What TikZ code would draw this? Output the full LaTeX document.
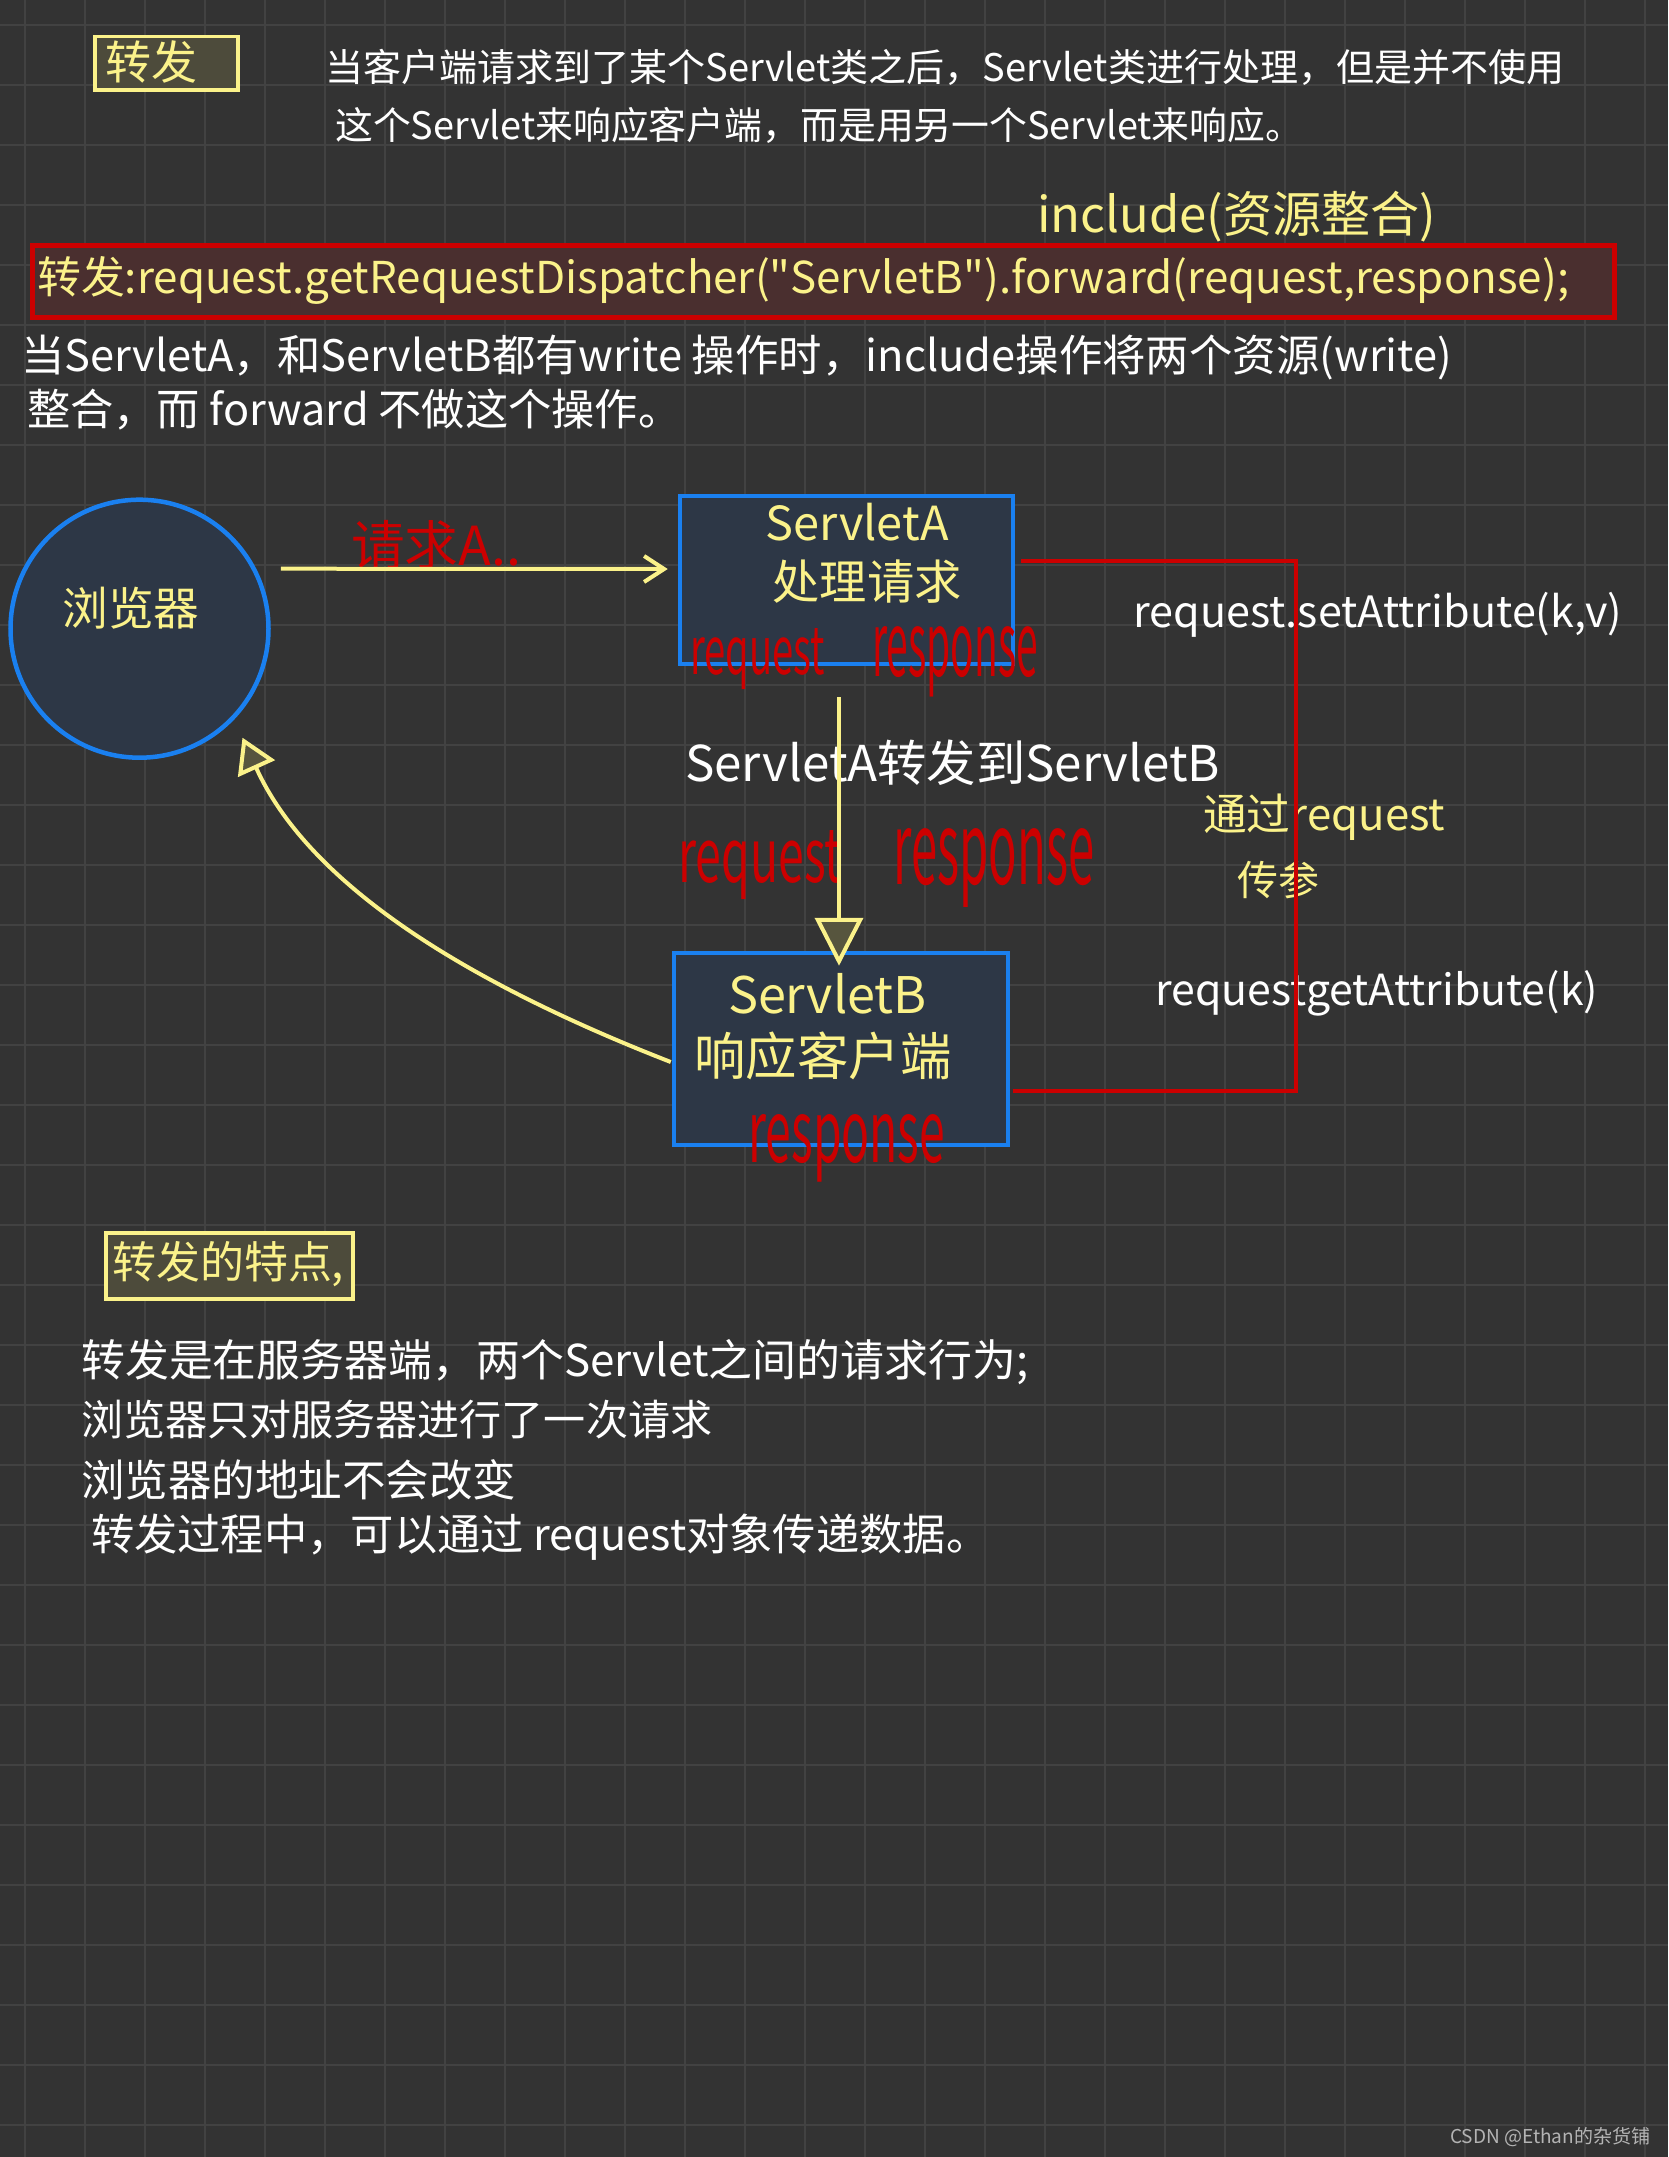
\documentclass[tikz,border=0pt]{standalone}
\usepackage{fontspec}
\setmainfont{Noto Sans CJK SC}
\newfontfamily\plainf{Noto Sans CJK SC}
\usetikzlibrary{arrows.meta,calc}
\definecolor{bgc}{HTML}{333333}
\definecolor{gridc}{HTML}{424242}
\definecolor{ylw}{HTML}{FBF28A}
\definecolor{redc}{HTML}{CC0000}
\definecolor{bluec}{HTML}{1A80F0}
\definecolor{boxfill}{HTML}{2D3746}
\definecolor{codefill}{HTML}{4A2F2F}
\definecolor{tagfill}{HTML}{4D4B3B}
\definecolor{trifill}{HTML}{57553E}
\definecolor{wmark}{HTML}{B4B4B4}
\newcommand{\fw}[2]{\resizebox{#1pt}{!}{#2}}
\newcommand{\fwh}[3]{\resizebox{#1pt}{#2pt}{#3}}
\begin{document}
\begin{tikzpicture}[x=1pt,y=-1pt,
  txt/.style={inner sep=0pt, font=\plainf\fontsize{40pt}{48pt}\selectfont},
  wtxt/.style={txt, text=white},
  ytxt/.style={txt, text=ylw},
  rtxt/.style={txt, text=redc},
  srvbox/.style={draw=bluec, fill=boxfill, line width=4.5pt, rectangle, inner sep=0pt},
  tagbox/.style={draw=ylw, fill=tagfill, line width=3.5pt, rectangle, inner sep=0pt},
  codebox/.style={draw=redc, fill=codefill, line width=5pt, rectangle, inner sep=0pt},
  yline/.style={draw=ylw, line width=4pt},
  rline/.style={draw=redc, line width=4pt},
  gridline/.style={draw=gridc, line width=2pt}
]
\fill[bgc] (0,0) rectangle (1668,2157);
\useasboundingbox (0,0) rectangle (1668,2157);
\foreach \i in {0,...,27} {\draw[gridline] ({25+60*\i},0) -- ({25+60*\i},2157);}
\foreach \j in {0,...,35} {\draw[gridline] (0,{25+60*\j}) -- (1668,{25+60*\j});}

% header
\node[tagbox, minimum width=143pt, minimum height=53pt, anchor=north west] (tag1) at (93,35) {};
\node[ytxt, anchor=west] (tag1t) at (105,62) {\fw{92}{转发}};
\node[wtxt, anchor=west] (t1) at (325,67) {\fw{1239}{当客户端请求到了某个Servlet类之后，Servlet类进行处理，但是并不使用}};
\node[wtxt, anchor=west] (t2) at (335,125) {\fw{968}{这个Servlet来响应客户端，而是用另一个Servlet来响应。}};

\node[ytxt, anchor=west] (inc) at (1037,217) {\fw{399}{include(资源整合)}};
\node[codebox, minimum width=1582pt, minimum height=72pt, anchor=north west] (code) at (30,243) {};
\node[ytxt, anchor=west] (codet) at (37,280) {\fw{1532}{转发:request.getRequestDispatcher("ServletB").forward(request,response);}};
\node[wtxt, anchor=west] (w1) at (21,357) {\fw{1431}{当ServletA，和ServletB都有write 操作时，include操作将两个资源(write)}};
\node[wtxt, anchor=west] (w2) at (27,410) {\fw{654}{整合，而 forward 不做这个操作。}};

% diagram
\node[circle, draw=bluec, fill=boxfill, line width=4.5pt, minimum size=258pt, inner sep=0pt] (browser) at (139.5,628.7) {};
\node[ytxt] (browsert) at (131,608) {\fw{137}{浏览器}};

\node[srvbox, minimum width=333pt, minimum height=168pt] (A) at (846.5,580) {};
\node[ytxt] (At1) at (857,522) {\fw{183}{ServletA}};
\node[ytxt] (At2) at (867,582) {\fw{189}{处理请求}};
\node[rtxt, anchor=north west] (Areq) at (690,628) {\fwh{135}{46}{request}};
\node[rtxt, anchor=north west] (Ares) at (872,626) {\fwh{166}{50}{response}};

\node[srvbox, minimum width=334pt, minimum height=192pt] (B) at (841,1049) {};
\node[ytxt] (Bt1) at (827.5,994) {\fw{199}{ServletB}};
\node[ytxt] (Bt2) at (823,1056) {\fw{257}{响应客户端}};
\node[rtxt, anchor=north west] (Bres) at (748,1114) {\fwh{197}{48}{response}};

\node[rtxt, anchor=west] (reqA) at (351,545) {\fw{170}{请求A..}};
\node[wtxt, anchor=west] (fwd) at (685,763) {\fw{535}{ServletA转发到ServletB}};
\node[rtxt, anchor=north west] (mreq) at (678,830) {\fwh{164}{52}{request}};
\node[rtxt, anchor=north west] (mres) at (893,828) {\fwh{201}{56}{response}};
\node[wtxt, anchor=west] (setA) at (1133,615) {\fw{489}{request.setAttribute(k,v)}};
\node[ytxt, anchor=west] (via) at (1203,817) {\fw{242}{通过request}};
\node[ytxt, anchor=west] (via2) at (1237,880) {\fw{82}{传参}};
\node[wtxt, anchor=west] (getA) at (1155,993) {\fw{443}{requestgetAttribute(k)}};

% connectors
\draw[yline, -{Straight Barb[length=20pt,width=26pt]}] ($(browser.east)+(10,-60)$) -- ($(A.west)+(-10,-11)$);
\draw[yline, -{Triangle[length=48pt,width=48pt,fill=trifill]}] ($(A.south)+(-7.5,31)$) -- ($(B.north)+(-2,15)$);
\draw[yline, -{Triangle[length=34pt,width=40pt,fill=trifill]}] ($(B.west)+(-1,13)$) .. controls (486,990) and (313,893) .. ($(browser.center)+(103,109)$);
\draw[rline] ($(A.east)+(6,-19)$) -- ++(275,0) |- ($(B.east)+(3,42)$);

% features
\node[tagbox, minimum width=247pt, minimum height=66pt, anchor=north west] (tag2) at (104,1231) {};
\node[ytxt, anchor=west] (tag2t) at (112,1264) {\fw{232}{转发的特点,}};
\node[wtxt, anchor=west] (l1) at (81,1362) {\fw{947}{转发是在服务器端，两个Servlet之间的请求行为;}};
\node[wtxt, anchor=west] (l2) at (81,1420) {\fw{631}{浏览器只对服务器进行了一次请求}};
\node[wtxt, anchor=west] (l3) at (81,1480) {\fw{435}{浏览器的地址不会改变}};
\node[wtxt, anchor=west] (l4) at (91,1537) {\fw{898}{转发过程中，可以通过 request对象传递数据。}};

\node[txt, text=wmark, anchor=west] (wm) at (1450,2137) {\fw{200}{CSDN @Ethan的杂货铺}};
\end{tikzpicture}
\end{document}
